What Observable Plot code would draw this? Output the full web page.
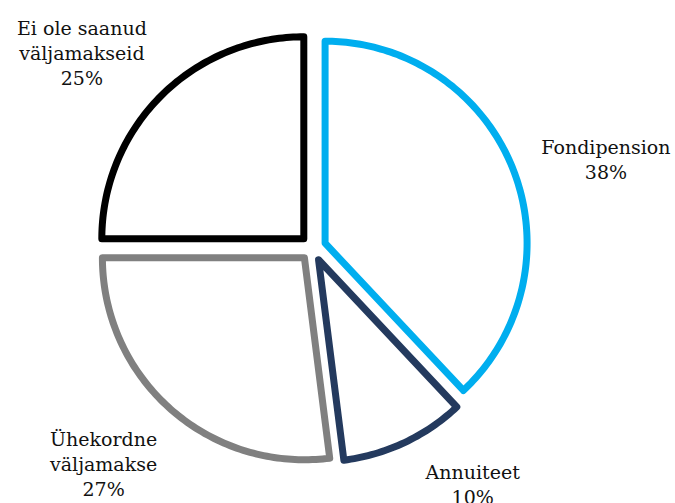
<!DOCTYPE html>
<html><head><meta charset="utf-8">
<script src="https://cdn.jsdelivr.net/npm/d3@7"></script>
<script src="https://cdn.jsdelivr.net/npm/@observablehq/plot@0.6"></script>
<style>body{margin:0;background:#fff} svg{display:block}</style>
</head><body><div id="chart"></div>
<script>
// ---- data ----
const categories = ["Fondipension", "Annuiteet", "Ühekordne väljamakse", "Ei ole saanud väljamakseid"];
const labelLines = ["Fondipension", "Annuiteet", "Ühekordne\nväljamakse", "Ei ole saanud\nväljamakseid"];
const shares = [38, 10, 27, 25];
const colors = ["#00aeef", "#243a5e", "#808080", "#000000"];

// ---- layout ----
const W = 675, H = 503;
const CX = 312.5, CY = 247.5, R = 202;     // pie centre / radius in px
const EXPLODE = 13;                         // px
const LABEL_R = 300;                        // px
const LABEL_NUDGE = [[14, 21], [32, -36], [-11, -10], [-19, 16]]; // px, y down
const FONT = 19, LH = 25 / 19;
const FONT_FAMILY = "'DejaVu Serif', 'Liberation Serif', serif";

const pie = d3.pie().sort(null).value(d => d)(shares);
const outline = [];
const labels = [];
pie.forEach((p, i) => {
  const mid = (p.startAngle + p.endAngle) / 2;
  const dx = Math.sin(mid), dy = Math.cos(mid);
  const ox = dx * EXPLODE / R, oy = dy * EXPLODE / R;
  outline.push({cat: categories[i], x: ox, y: oy});
  const n = Math.ceil((p.endAngle - p.startAngle) / (Math.PI / 180));
  for (let k = 0; k <= n; k++) {
    const a = p.startAngle + (p.endAngle - p.startAngle) * k / n;
    outline.push({cat: categories[i], x: ox + Math.sin(a), y: oy + Math.cos(a)});
  }
  labels.push({
    text: labelLines[i] + "\n" + shares[i] + "%",
    x: (dx * LABEL_R + LABEL_NUDGE[i][0]) / R,
    y: (dy * LABEL_R - LABEL_NUDGE[i][1]) / R
  });
});

const chart = Plot.plot({
  width: W, height: H,
  margin: 0,
  x: {domain: [-CX / R, (W - CX) / R], axis: null},
  y: {domain: [-(H - CY) / R, CY / R], axis: null},
  color: {domain: categories, range: colors},
  style: {background: "#fff"},
  marks: [
    Plot.line(outline, {x: "x", y: "y", z: "cat", stroke: "cat", strokeWidth: 7,
      curve: "linear-closed", strokeLinejoin: "round"}),
    Plot.text(labels, {x: "x", y: "y", text: "text", fontSize: FONT, lineHeight: LH,
      fill: "#111", fontFamily: FONT_FAMILY, textAnchor: "middle"})
  ]
});
document.getElementById("chart").append(chart);
</script></body></html>
